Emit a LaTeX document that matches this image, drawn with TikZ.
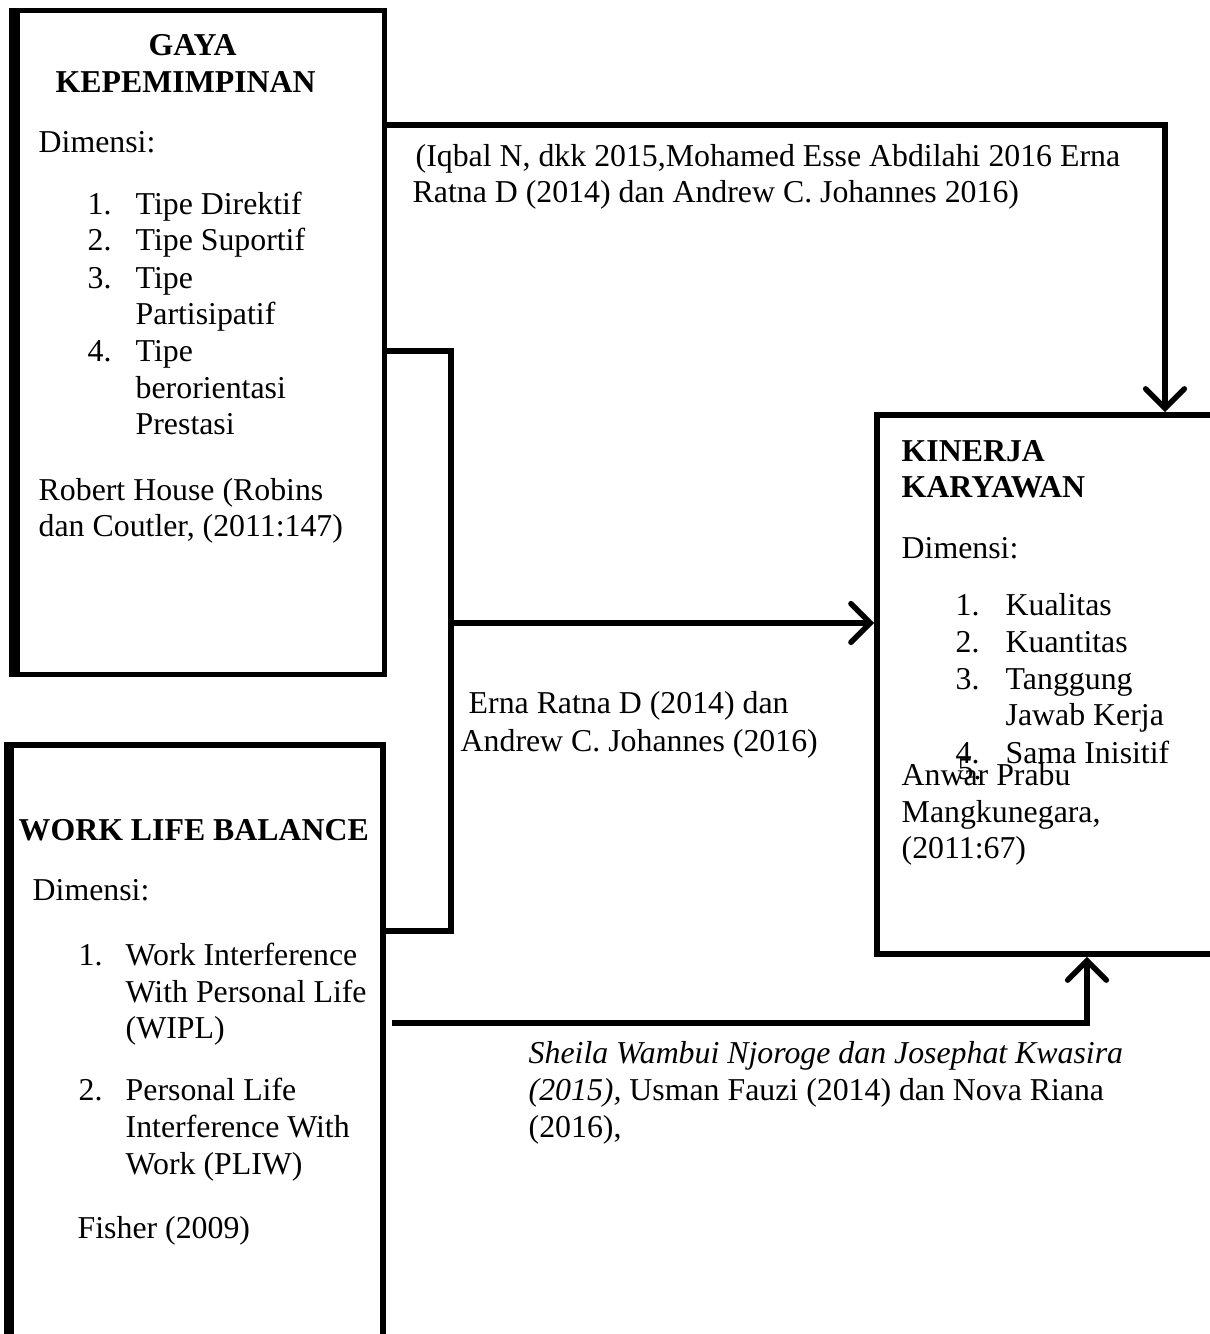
\documentclass[tikz,border=0pt]{standalone}
\usepackage{fontspec}
\setmainfont{Liberation Serif}
\usetikzlibrary{arrows.meta,calc}

\begin{document}
\begin{tikzpicture}[x=0.01cm, y=-0.01cm,
    box/.style={draw, line width=0.055cm, inner sep=0pt, fill=none},
    link/.style={line width=0.055cm},
    arr/.style={link, -{Straight Barb[length=5.5pt, width=11pt, line cap=round]}},
    txt/.style={anchor=base west, inner sep=0pt, font=\fontsize{9.05}{10.5}\selectfont},
    hd/.style={txt, font=\fontsize{9.05}{10.5}\selectfont\bfseries}]
    \useasboundingbox (0,0) rectangle (1209,1334);

    % Boxes
    \node[box, minimum width=3.675cm, minimum height=6.64cm] (gaya) at (200.75,342.5) {};
    \draw[line width=0.05cm] ($(gaya.north west)+(-2.5,0)$) -- ($(gaya.south west)+(-2.5,0)$);

    \node[box, minimum width=3.72cm, minimum height=6.0cm] (wlb) at (197,1045) {};
    \draw[line width=0.04cm] ($(wlb.north west)+(-2,0)$) -- ($(wlb.south west)+(-2,0)$);

    \node[box, minimum width=3.355cm, minimum height=5.39cm] (kinerja) at (1044.75,684.5) {};

    % Gaya kepemimpinan
    \node[hd] (g1) at (148,56) {GAYA};
    \node[hd] (g2) at (55,93) {KEPEMIMPINAN};
    \node[txt] (g3) at (38,153) {Dimensi:};
    \node[txt] (gn1) at (87,215) {1.};
    \node[txt] (gt1) at (135,215) {Tipe Direktif};
    \node[txt] (gn2) at (87,251) {2.};
    \node[txt] (gt2) at (135,251) {Tipe Suportif};
    \node[txt] (gn3) at (87,289) {3.};
    \node[txt] (gt3) at (135,289) {Tipe};
    \node[txt] (gt3b) at (135,325) {Partisipatif};
    \node[txt] (gn4) at (87,362) {4.};
    \node[txt] (gt4) at (135,362) {Tipe};
    \node[txt] (gt4b) at (135,399) {berorientasi};
    \node[txt] (gt4c) at (135,435) {Prestasi};
    \node[txt] (g4) at (38,501) {Robert House (Robins};
    \node[txt] (g5) at (38,537) {dan Coutler, (2011:147)};

    % Work life balance
    \node[hd] (w1) at (18,840) {WORK LIFE BALANCE};
    \node[txt] (w2) at (32,900) {Dimensi:};
    \node[txt] (wn1) at (78,965) {1.};
    \node[txt] (wt1) at (125,965) {Work Interference};
    \node[txt] (wt1b) at (125,1002) {With Personal Life};
    \node[txt] (wt1c) at (125,1038) {(WIPL)};
    \node[txt] (wn2) at (78,1100) {2.};
    \node[txt] (wt2) at (125,1100) {Personal Life};
    \node[txt] (wt2b) at (125,1137) {Interference With};
    \node[txt] (wt2c) at (125,1174) {Work (PLIW)};
    \node[txt] (w3) at (77,1238) {Fisher (2009)};

    % Kinerja karyawan
    \node[hd] (k1) at (901,462) {KINERJA};
    \node[hd] (k2) at (901,498) {KARYAWAN};
    \node[txt] (k3) at (901,558) {Dimensi:};
    \node[txt] (kn1) at (955,615) {1.};
    \node[txt] (kt1) at (1005,615) {Kualitas};
    \node[txt] (kn2) at (955,652) {2.};
    \node[txt] (kt2) at (1005,652) {Kuantitas};
    \node[txt] (kn3) at (955,689) {3.};
    \node[txt] (kt3) at (1005,689) {Tanggung};
    \node[txt] (kt3b) at (1005,725) {Jawab Kerja};
    \node[txt] (kn4) at (955,763) {4.};
    \node[txt] (kt4) at (1005,763) {Sama Inisitif};
    \node[txt] (kn5) at (957,779) {5.};
    \node[txt] (k4) at (901,785) {Anwar Prabu};
    \node[txt] (k5) at (901,822) {Mangkunegara,};
    \node[txt] (k6) at (901,858) {(2011:67)};

    % Connectors
    \coordinate (topbend) at (1165,125);
    \draw[arr] (gaya.east |- topbend) -| (kinerja.north -| topbend);

    \coordinate (brtop) at (451,351);
    \coordinate (brbot) at (451,931);
    \draw[link] (gaya.east |- brtop) -- (brtop) -- (brbot) -- (wlb.east |- brbot);
    \coordinate (join) at (451,623);
    \draw[arr] (join) -- (kinerja.west |- join);

    \coordinate (botbend) at (1087,1023);
    \draw[arr] ($(wlb.east |- botbend)+(6,0)$) -| (kinerja.south -| botbend);

    % Labels
    \node[txt] (l1) at (415,167) {(Iqbal N, dkk 2015,Mohamed Esse Abdilahi 2016 Erna};
    \node[txt] (l2) at (412,203) {Ratna D (2014) dan Andrew C. Johannes 2016)};
    \node[txt] (l3) at (468,713) {Erna Ratna D (2014) dan};
    \node[txt] (l4) at (460,751) {Andrew C. Johannes (2016)};
    \node[txt] (l5) at (528,1063) {\itshape Sheila Wambui Njoroge dan Josephat Kwasira};
    \node[txt] (l6) at (528,1100) {\textit{(2015),} Usman Fauzi (2014) dan Nova Riana};
    \node[txt] (l7) at (528,1137) {(2016),};
\end{tikzpicture}
\end{document}
